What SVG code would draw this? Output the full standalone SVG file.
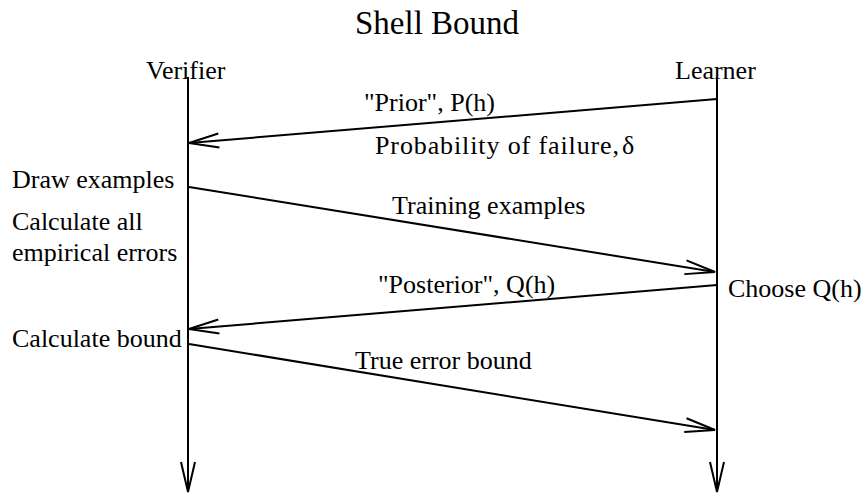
<svg xmlns="http://www.w3.org/2000/svg" width="867" height="495" viewBox="0 0 867 495">
<style>
text{font-family:"Liberation Serif","Times New Roman",serif;fill:#000}
.t{font-size:26px}
.h{font-size:33px}
.l{stroke:#000;stroke-width:2;fill:none}
</style>
<defs>
<marker id="ah" markerUnits="userSpaceOnUse" viewBox="-32 -9 34 18" refX="0" refY="0" markerWidth="34" markerHeight="18" orient="auto">
<path d="M-30,-7 L0,0 L-30,7" fill="none" stroke="#000" stroke-width="2"/>
</marker>
</defs>
<g id="title"><text class="h" x="355" y="34">Shell Bound</text></g>
<g id="verifier">
<text class="t" x="146" y="79">Verifier</text>
<text class="t" x="12" y="188">Draw examples</text>
<text class="t" x="12" y="230">Calculate all</text>
<text class="t" x="12" y="261">empirical errors</text>
<text class="t" x="12" y="347">Calculate bound</text>
</g>
<g id="learner">
<text class="t" x="675" y="79">Learner</text>
<text class="t" x="728" y="297">Choose Q(h)</text>
</g>
<g id="connectors">
<line class="l" x1="188" y1="77" x2="188" y2="492" marker-end="url(#ah)"/>
<line class="l" x1="717" y1="77" x2="717" y2="492" marker-end="url(#ah)"/>
<line class="l" x1="717" y1="99" x2="189" y2="143" marker-end="url(#ah)"/>
<line class="l" x1="189" y1="187" x2="715" y2="272" marker-end="url(#ah)"/>
<line class="l" x1="717" y1="285" x2="189" y2="329" marker-end="url(#ah)"/>
<line class="l" x1="189" y1="344" x2="715" y2="430" marker-end="url(#ah)"/>
</g>
<g id="labels">
<text class="t" x="364" y="111">"Prior", P(h)</text>
<text class="t" x="375" y="154" textLength="244" lengthAdjust="spacing">Probability of failure,</text>
<text class="t" x="622" y="154" font-size="28">δ</text>
<text class="t" x="392" y="214">Training examples</text>
<text class="t" x="378" y="293">"Posterior", Q(h)</text>
<text class="t" x="355" y="369">True error bound</text>
</g>
</svg>
